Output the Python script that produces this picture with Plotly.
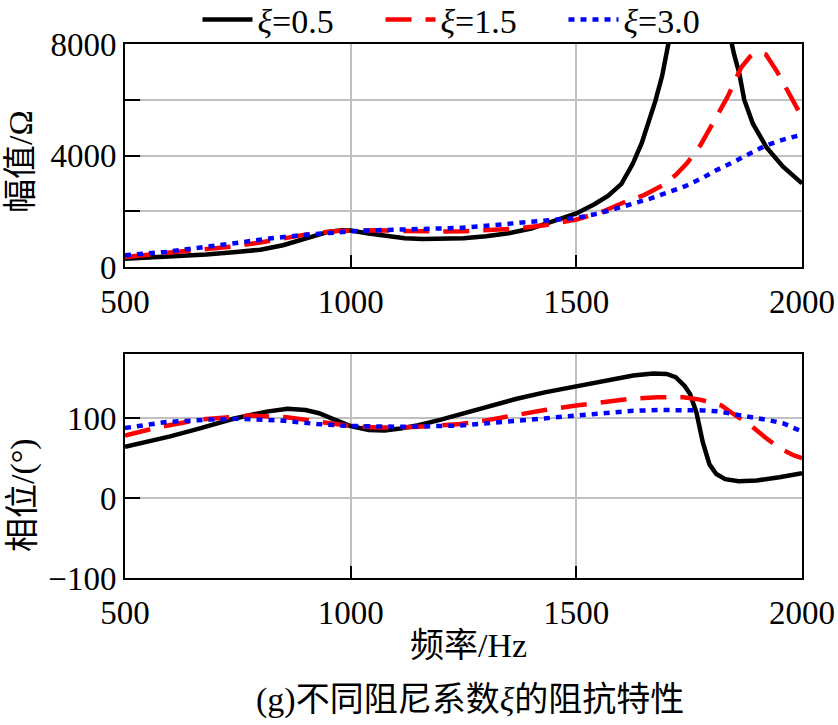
import plotly.graph_objects as go

# ---------------- data ----------------
f_mag_05 = [500, 560, 620, 680, 740, 800, 850, 890, 920, 950, 980, 1000, 1040, 1080, 1120, 1160, 1200,
            1250, 1300, 1350, 1400, 1450, 1500, 1540, 1570, 1600, 1625, 1645, 1660, 1675, 1690, 1705,
            1730, 1760, 1790, 1820, 1843, 1850, 1861, 1872, 1891, 1921, 1958, 2000]
mag_05 = [300, 340, 390, 450, 530, 620, 780, 960, 1120, 1260, 1315, 1310, 1200, 1100, 1030, 1000, 1000,
          1030, 1100, 1210, 1380, 1650, 1920, 2250, 2550, 2980, 3700, 4450, 5150, 5950, 6850, 8100,
          12000, 20000, 20000, 12000, 8100, 7600, 6950, 6000, 5150, 4300, 3600, 3000]

f_mag_15 = [500, 560, 620, 680, 740, 800, 860, 920, 970, 1000, 1050, 1100, 1150, 1200, 1250, 1300, 1370,
            1430, 1500, 1560, 1610, 1650, 1690, 1720, 1745, 1775, 1810, 1835, 1865, 1885, 1900, 1920,
            1945, 1970, 2000]
mag_15 = [360, 450, 540, 630, 740, 880, 1050, 1220, 1290, 1310, 1320, 1300, 1280, 1275, 1285, 1320, 1380,
          1500, 1700, 2000, 2350, 2580, 2920, 3300, 3720, 4370, 5380, 6100, 7150, 7550, 7700, 7620,
          7000, 6300, 5380]

f_mag_30 = [500, 590, 660, 740, 820, 890, 950, 1000, 1060, 1110, 1170, 1240, 1300, 1370, 1440, 1500, 1550,
            1590, 1630, 1665, 1700, 1740, 1780, 1810, 1850, 1885, 1920, 1960, 2000]
mag_30 = [420, 540, 680, 860, 1020, 1140, 1230, 1280, 1320, 1340, 1370, 1400, 1480, 1590, 1680, 1760, 1920,
          2095, 2280, 2460, 2660, 2890, 3200, 3470, 3780, 4070, 4360, 4580, 4750]

f_ph_05 = [500, 550, 600, 666, 740, 814, 860, 900, 930, 960, 1000, 1040, 1075, 1110, 1150, 1200, 1243,
           1300, 1368, 1430, 1500, 1560, 1626, 1670, 1700, 1720, 1740, 1752, 1766, 1780, 1795, 1810,
           1830, 1860, 1900, 1950, 2000]
ph_05 = [64, 70, 77, 87, 99, 108, 111.5, 110, 106, 99, 90, 85, 84.5, 87, 91, 98, 105,
         113, 124, 132, 140, 146, 153, 155.5, 155, 151, 140, 130, 107, 70, 42, 30,
         23.5, 21, 22, 26, 31]

f_ph_15 = [500, 570, 666, 777, 858, 925, 1000, 1060, 1109, 1180, 1243, 1300, 1368, 1430, 1500, 1560, 1618,
           1680, 1737, 1774, 1800, 1822, 1848, 1881, 1918, 1951, 1981, 2000]
ph_15 = [78, 88, 98, 103, 101, 96, 90, 88, 88, 90, 92.5, 97, 104, 110, 115.5, 120, 124,
         126, 126, 123, 119, 115.5, 105, 93, 76, 62, 53.5, 50]

f_ph_30 = [500, 592, 688, 755, 843, 925, 1000, 1109, 1243, 1300, 1368, 1430, 1500, 1560, 1626, 1680, 1737,
           1780, 1811, 1840, 1870, 1929, 1960, 1988, 2000]
ph_30 = [87.5, 95, 98, 99, 97, 92.5, 90, 89, 90.5, 93, 97, 100, 103, 106, 109, 110, 110,
         109.5, 108.5, 106, 103, 97, 93, 85.5, 83]

series_names = ["<i>ξ</i>=0.5", "<i>ξ</i>=1.5", "<i>ξ</i>=3.0"]
x_ticks = [500, 1000, 1500, 2000]
mag_ticks = [0, 2000, 4000, 6000, 8000]
mag_ticktext = ["0", "", "4000", "", "8000"]
ph_ticks = [-100, 0, 100]

# ---------------- figure ----------------
W, H = 838, 725
FONT = "Liberation Serif, Times New Roman, Noto Sans CJK SC, serif"
LW = 4.5
styles = [dict(color="black", width=LW, dash="solid"),
          dict(color="#ff0000", width=LW, dash="26px,14px"),
          dict(color="#0000ff", width=LW, dash="6px,6px")]

fig = go.Figure()
mags = [(f_mag_05, mag_05), (f_mag_15, mag_15), (f_mag_30, mag_30)]
phs = [(f_ph_05, ph_05), (f_ph_15, ph_15), (f_ph_30, ph_30)]
for i in range(3):
    fig.add_trace(go.Scatter(x=mags[i][0], y=mags[i][1], mode="lines", line=styles[i],
                             name=series_names[i], xaxis="x", yaxis="y", showlegend=True))
for i in range(3):
    fig.add_trace(go.Scatter(x=phs[i][0], y=phs[i][1], mode="lines", line=styles[i],
                             name=series_names[i], xaxis="x2", yaxis="y2", showlegend=False))

TICK_FS = 33
axis_common = dict(showline=True, mirror=True, linecolor="black", linewidth=2,
                   showgrid=True, gridcolor="#c0c0c0", gridwidth=2,
                   ticks="inside", tickcolor="black", tickwidth=2, automargin=False,
                   zeroline=False, tickfont=dict(family=FONT, size=TICK_FS, color="black"))

def px(x):
    return x / W

def py(y):
    return 1 - y / H

xdom = [px(125), px(802)]
fig.update_layout(
    width=W, height=H,
    margin=dict(l=0, r=0, t=0, b=0, autoexpand=False),
    paper_bgcolor="white", plot_bgcolor="white",
    font=dict(family=FONT, size=34, color="black"),
    showlegend=True,
    legend=dict(orientation="h", x=px(472), xanchor="center", y=py(20), yanchor="middle",
                font=dict(family=FONT, size=34, color="black"), itemwidth=50,
                entrywidth=118, entrywidthmode="pixels",
                bgcolor="rgba(0,0,0,0)", tracegroupgap=0),
    xaxis=dict(domain=xdom, range=[500, 2000], tickvals=x_ticks, ticklen=12,
               ticklabelstandoff=4, anchor="y", **axis_common),
    yaxis=dict(domain=[py(267), py(44)], range=[0, 8000], tickvals=mag_ticks, ticktext=mag_ticktext,
               ticklen=15, anchor="x", **axis_common),
    xaxis2=dict(domain=xdom, range=[500, 2000], tickvals=x_ticks, ticklen=12,
                ticklabelstandoff=4, anchor="y2", **axis_common),
    yaxis2=dict(domain=[py(578), py(354)], range=[-100, 180], tickvals=ph_ticks,
                ticklen=15, anchor="x2", **axis_common),
)

ann_font = dict(family=FONT, size=34, color="black")
fig.add_annotation(text="幅值/Ω", xref="paper", yref="paper", x=px(21), y=py(162),
                   textangle=-90, showarrow=False, xanchor="center", yanchor="middle", font=ann_font)
fig.add_annotation(text="相位/(°)", xref="paper", yref="paper", x=px(23), y=py(495),
                   textangle=-90, showarrow=False, xanchor="center", yanchor="middle", font=ann_font)
fig.add_annotation(text="频率/Hz", xref="paper", yref="paper", x=px(468), y=py(645),
                   showarrow=False, xanchor="center", yanchor="middle", font=ann_font)
fig.add_annotation(text="(g)不同阻尼系数<i>ξ</i>的阻抗特性", xref="paper", yref="paper", x=px(470), y=py(700),
                   showarrow=False, xanchor="center", yanchor="middle", font=ann_font)

fig.write_html("out.html")
